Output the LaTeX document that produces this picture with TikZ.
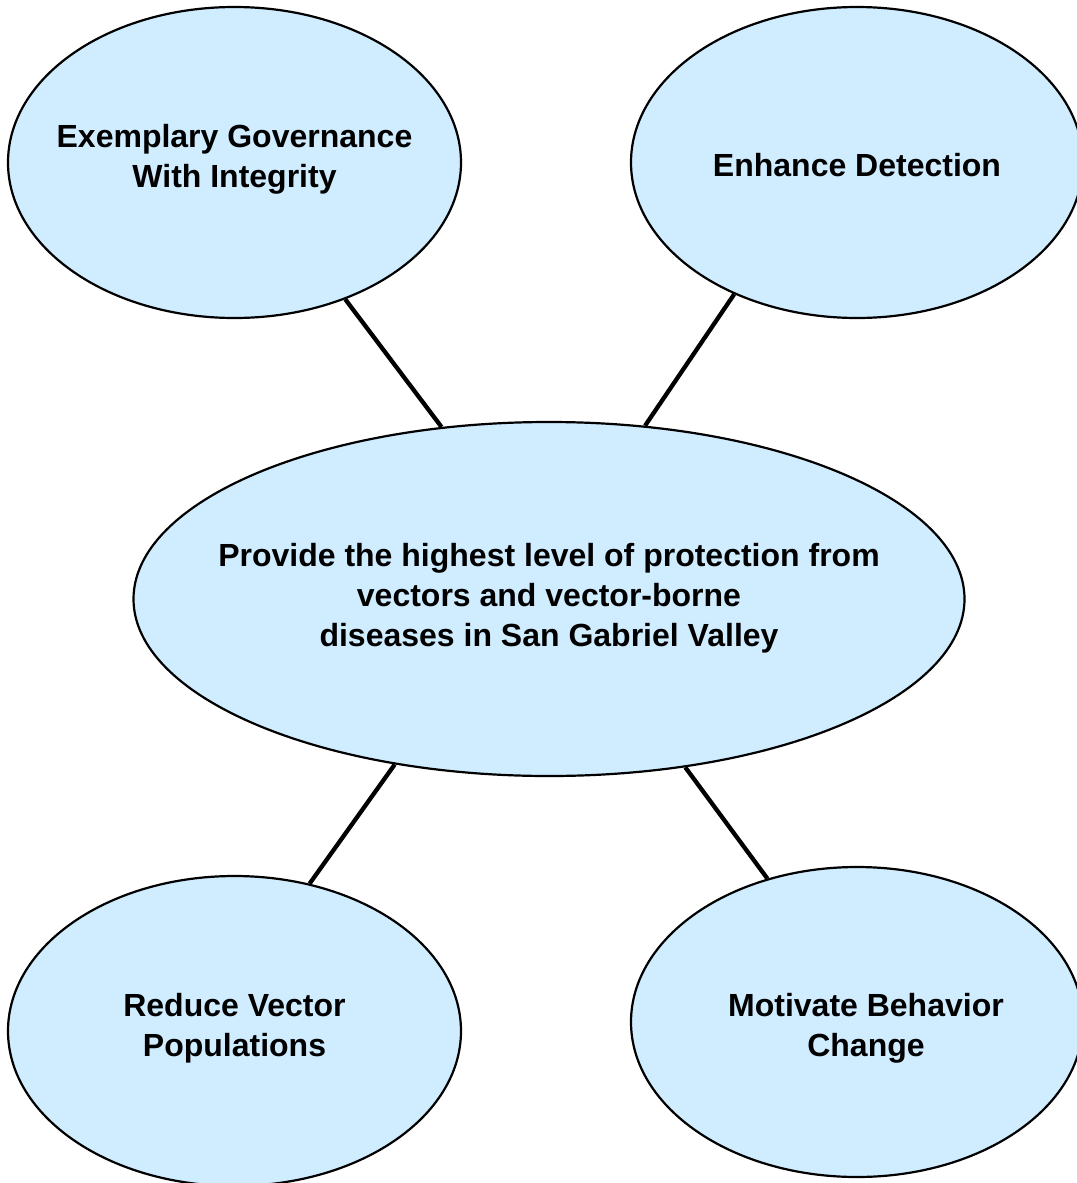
\documentclass[tikz,border=0pt]{standalone}
\usepackage{fontspec}
\setmainfont{Liberation Sans}
\usetikzlibrary{shapes.geometric}
\definecolor{bubble}{RGB}{208,236,255}
\begin{document}
\begin{tikzpicture}[x=1pt,y=-1pt,
  goal/.style={ellipse,draw=black,line width=2.2pt,fill=bubble,inner sep=0pt},
  goaltext/.style={align=center,inner sep=0pt,font=\fontsize{32}{40}\selectfont\bfseries},
  link/.style={line width=4.3pt,draw=black}]
\useasboundingbox (0,0) rectangle (1076,1183);
\node[goal,minimum width=453,minimum height=311] (tl) at (234.5,162.5) {};
\node[goal,minimum width=452,minimum height=311] (tr) at (857,162.5) {};
\node[goal,minimum width=453,minimum height=310] (bl) at (234.5,1031) {};
\node[goal,minimum width=452,minimum height=310] (br) at (857,1022) {};
\node[goal,minimum width=831,minimum height=354] (c) at (549,599) {};
\draw[link] (tl.-51.2) -- (c.122.5);
\draw[link] (tr.227.8) -- (c.61.9);
\draw[link] (c.227.5) -- (bl.63.3);
\draw[link] (c.-51.4) -- (br.122.4);
\node[goaltext] (tlt) at (234.5,159) {Exemplary Governance\\With Integrity};
\node[goaltext] (trt) at (857,165) {Enhance Detection};
\node[goaltext] (blt) at (234.5,1028) {Reduce Vector\\Populations};
\node[goaltext] (brt) at (866,1028.5) {Motivate Behavior\\Change};
\node[goaltext] (ct) at (549,598) {Provide the highest level of protection from\\vectors and vector-borne\\diseases in San Gabriel Valley};
\end{tikzpicture}
\end{document}
